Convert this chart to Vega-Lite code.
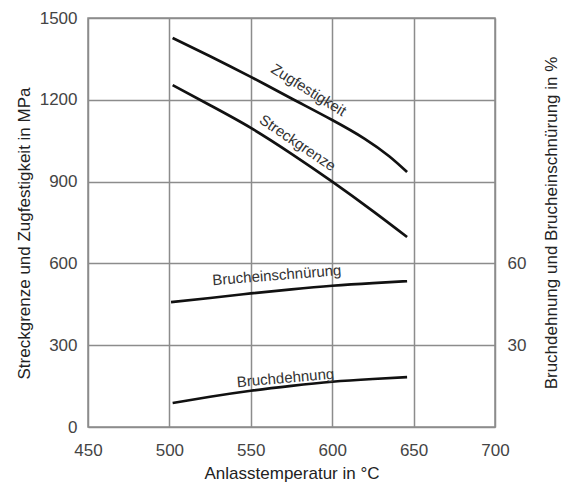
{
  "$schema": "https://vega.github.io/schema/vega-lite/v6.json",
  "width": 407,
  "height": 409,
  "autosize": {"type": "none"},
  "padding": {"left": 88, "top": 18, "right": 69, "bottom": 73},
  "background": "white",
  "config": {
    "font": "Liberation Sans",
    "view": {"stroke": "#8c8c8c", "strokeWidth": 1.5},
    "axis": {
      "labelFont": "Liberation Sans",
      "labelFontSize": 17,
      "labelColor": "#444",
      "labelFlush": false,
      "format": "d",
      "titleFont": "Liberation Sans",
      "titleFontSize": 17,
      "titleFontWeight": "normal",
      "titleColor": "#222",
      "ticks": false,
      "domain": false,
      "gridColor": "#8c8c8c",
      "gridWidth": 1.5,
      "gridOpacity": 1
    }
  },
  "datasets": {
    "mpa": [
      {"curve": "Zugfestigkeit", "temp": 502, "value": 1427},
      {"curve": "Zugfestigkeit", "temp": 525, "value": 1360},
      {"curve": "Zugfestigkeit", "temp": 550, "value": 1284},
      {"curve": "Zugfestigkeit", "temp": 575, "value": 1205},
      {"curve": "Zugfestigkeit", "temp": 600, "value": 1126},
      {"curve": "Zugfestigkeit", "temp": 620, "value": 1057},
      {"curve": "Zugfestigkeit", "temp": 635, "value": 993},
      {"curve": "Zugfestigkeit", "temp": 646, "value": 935},
      {"curve": "Streckgrenze", "temp": 502, "value": 1254},
      {"curve": "Streckgrenze", "temp": 525, "value": 1180},
      {"curve": "Streckgrenze", "temp": 550, "value": 1097},
      {"curve": "Streckgrenze", "temp": 575, "value": 1002},
      {"curve": "Streckgrenze", "temp": 600, "value": 900},
      {"curve": "Streckgrenze", "temp": 625, "value": 792},
      {"curve": "Streckgrenze", "temp": 646, "value": 697}
    ],
    "pct": [
      {"curve": "Brucheinschnürung", "temp": 501, "pct": 45.8},
      {"curve": "Brucheinschnürung", "temp": 525, "pct": 47.3},
      {"curve": "Brucheinschnürung", "temp": 550, "pct": 49.0},
      {"curve": "Brucheinschnürung", "temp": 575, "pct": 50.5},
      {"curve": "Brucheinschnürung", "temp": 600, "pct": 51.8},
      {"curve": "Brucheinschnürung", "temp": 625, "pct": 52.8},
      {"curve": "Brucheinschnürung", "temp": 646, "pct": 53.5},
      {"curve": "Bruchdehnung", "temp": 502, "pct": 8.8},
      {"curve": "Bruchdehnung", "temp": 525, "pct": 11.1},
      {"curve": "Bruchdehnung", "temp": 550, "pct": 13.3},
      {"curve": "Bruchdehnung", "temp": 575, "pct": 15.1},
      {"curve": "Bruchdehnung", "temp": 600, "pct": 16.6},
      {"curve": "Bruchdehnung", "temp": 625, "pct": 17.6},
      {"curve": "Bruchdehnung", "temp": 646, "pct": 18.3}
    ],
    "mpaLabels": [
      {"label": "Zugfestigkeit", "temp": 585.6, "value": 1236},
      {"label": "Streckgrenze", "temp": 578.8, "value": 1042}
    ],
    "pctLabels": [
      {"label": "Brucheinschnürung", "temp": 566, "pct": 55.7},
      {"label": "Bruchdehnung", "temp": 571.3, "pct": 18.0}
    ]
  },
  "layer": [
    {
      "layer": [
        {
          "data": {"name": "mpa"},
          "mark": {"type": "line", "color": "#111", "strokeWidth": 2.7, "interpolate": "natural"},
          "encoding": {
            "x": {
              "field": "temp", "type": "quantitative",
              "scale": {"domain": [450, 700], "nice": false, "zero": false},
              "axis": {"values": [450, 500, 550, 600, 650, 700], "grid": true, "title": "Anlasstemperatur in °C", "labelPadding": 15, "titlePadding": 7}
            },
            "y": {
              "field": "value", "type": "quantitative",
              "scale": {"domain": [0, 1500], "nice": false},
              "axis": {"values": [0, 300, 600, 900, 1200, 1500], "grid": true, "orient": "left", "title": "Streckgrenze und Zugfestigkeit in MPa", "labelPadding": 11, "titlePadding": 6, "titleY": 215}
            },
            "detail": {"field": "curve"}
          }
        },
        {
          "data": {"name": "mpaLabels"},
          "transform": [{"filter": "datum.label === 'Zugfestigkeit'"}],
          "mark": {"type": "text", "angle": 32, "fontSize": 15, "color": "#333", "align": "center", "baseline": "middle"},
          "encoding": {
            "x": {
              "field": "temp", "type": "quantitative",
              "scale": {"domain": [450, 700], "nice": false, "zero": false},
              "axis": {"values": [450, 500, 550, 600, 650, 700], "grid": true, "title": "Anlasstemperatur in °C", "labelPadding": 15, "titlePadding": 7}
            },
            "y": {
              "field": "value", "type": "quantitative",
              "scale": {"domain": [0, 1500], "nice": false},
              "axis": {"values": [0, 300, 600, 900, 1200, 1500], "grid": true, "orient": "left", "title": "Streckgrenze und Zugfestigkeit in MPa", "labelPadding": 11, "titlePadding": 6, "titleY": 215}
            },
            "text": {"field": "label"}
          }
        },
        {
          "data": {"name": "mpaLabels"},
          "transform": [{"filter": "datum.label === 'Streckgrenze'"}],
          "mark": {"type": "text", "angle": 34, "fontSize": 15, "color": "#333", "align": "center", "baseline": "middle"},
          "encoding": {
            "x": {
              "field": "temp", "type": "quantitative",
              "scale": {"domain": [450, 700], "nice": false, "zero": false},
              "axis": {"values": [450, 500, 550, 600, 650, 700], "grid": true, "title": "Anlasstemperatur in °C", "labelPadding": 15, "titlePadding": 7}
            },
            "y": {
              "field": "value", "type": "quantitative",
              "scale": {"domain": [0, 1500], "nice": false},
              "axis": {"values": [0, 300, 600, 900, 1200, 1500], "grid": true, "orient": "left", "title": "Streckgrenze und Zugfestigkeit in MPa", "labelPadding": 11, "titlePadding": 6, "titleY": 215}
            },
            "text": {"field": "label"}
          }
        }
      ]
    },
    {
      "layer": [
        {
          "data": {"name": "pct"},
          "mark": {"type": "line", "color": "#111", "strokeWidth": 2.7, "interpolate": "natural"},
          "encoding": {
            "x": {
              "field": "temp", "type": "quantitative",
              "scale": {"domain": [450, 700], "nice": false, "zero": false},
              "axis": {"values": [450, 500, 550, 600, 650, 700], "grid": true, "title": "Anlasstemperatur in °C", "labelPadding": 15, "titlePadding": 7}
            },
            "y": {
              "field": "pct", "type": "quantitative",
              "scale": {"domain": [0, 150], "nice": false},
              "axis": {"values": [30, 60], "grid": false, "orient": "right", "title": "Bruchdehnung und Brucheinschnürung in %", "labelPadding": 12, "titlePadding": 18, "titleAngle": -90, "titleBaseline": "top"}
            },
            "detail": {"field": "curve"}
          }
        },
        {
          "data": {"name": "pctLabels"},
          "transform": [{"filter": "datum.label === 'Brucheinschnürung'"}],
          "mark": {"type": "text", "angle": -4.5, "fontSize": 15, "color": "#333", "align": "center", "baseline": "middle"},
          "encoding": {
            "x": {
              "field": "temp", "type": "quantitative",
              "scale": {"domain": [450, 700], "nice": false, "zero": false},
              "axis": {"values": [450, 500, 550, 600, 650, 700], "grid": true, "title": "Anlasstemperatur in °C", "labelPadding": 15, "titlePadding": 7}
            },
            "y": {
              "field": "pct", "type": "quantitative",
              "scale": {"domain": [0, 150], "nice": false},
              "axis": {"values": [30, 60], "grid": false, "orient": "right", "title": "Bruchdehnung und Brucheinschnürung in %", "labelPadding": 12, "titlePadding": 18, "titleAngle": -90, "titleBaseline": "top"}
            },
            "text": {"field": "label"}
          }
        },
        {
          "data": {"name": "pctLabels"},
          "transform": [{"filter": "datum.label === 'Bruchdehnung'"}],
          "mark": {"type": "text", "angle": -5, "fontSize": 15, "color": "#333", "align": "center", "baseline": "middle"},
          "encoding": {
            "x": {
              "field": "temp", "type": "quantitative",
              "scale": {"domain": [450, 700], "nice": false, "zero": false},
              "axis": {"values": [450, 500, 550, 600, 650, 700], "grid": true, "title": "Anlasstemperatur in °C", "labelPadding": 15, "titlePadding": 7}
            },
            "y": {
              "field": "pct", "type": "quantitative",
              "scale": {"domain": [0, 150], "nice": false},
              "axis": {"values": [30, 60], "grid": false, "orient": "right", "title": "Bruchdehnung und Brucheinschnürung in %", "labelPadding": 12, "titlePadding": 18, "titleAngle": -90, "titleBaseline": "top"}
            },
            "text": {"field": "label"}
          }
        }
      ]
    }
  ],
  "resolve": {"scale": {"y": "independent"}, "axis": {"y": "independent"}}
}
